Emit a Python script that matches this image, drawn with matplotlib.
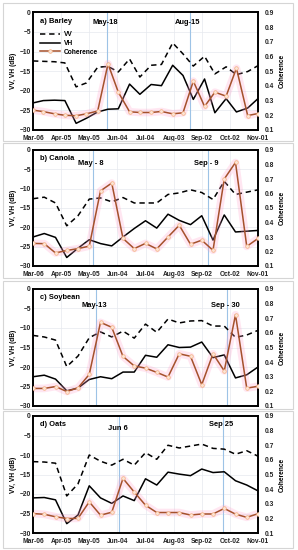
import matplotlib
matplotlib.use("Agg")
import matplotlib.pyplot as plt
from matplotlib.patches import FancyBboxPatch

plt.rcParams['font.family'] = ['Liberation Sans', 'DejaVu Sans']
plt.rcParams['font.weight'] = 'bold'

# ---------------- data ----------------
tick_days = [0, 30, 60, 90, 120, 150, 180, 210, 240]
tick_labels = ['Mar-06', 'Apr-05', 'May-05', 'Jun-04', 'Jul-04', 'Aug-03', 'Sep-02', 'Oct-02', 'Nov-01']

barley_days = [0, 11, 23, 34, 46, 57, 69, 80, 91, 103, 114, 126, 137, 149, 160, 171, 183, 194, 206, 217, 229, 240]
barley_vv = [-12.4, -12.5, -12.6, -12.9, -19.0, -18.0, -14.0, -13.8, -15.2, -11.9, -16.5, -13.5, -13.3, -7.8, -10.6, -13.7, -11.2, -15.7, -13.9, -15.9, -15.1, -13.6]
barley_vh = [-23.1, -22.5, -22.4, -22.5, -28.3, -27.0, -25.4, -24.7, -24.6, -18.3, -20.9, -18.4, -18.7, -13.5, -16.1, -22.2, -17.0, -25.6, -22.0, -25.4, -24.4, -22.0]
barley_coh = [0.235, 0.225, 0.21, 0.20, 0.197, 0.21, 0.229, 0.55, 0.357, 0.224, 0.219, 0.219, 0.226, 0.21, 0.217, 0.432, 0.26, 0.357, 0.33, 0.52, 0.198, 0.212]

crop_days = [0, 12, 24, 36, 48, 60, 72, 84, 96, 108, 120, 132, 144, 156, 168, 180, 192, 204, 216, 228, 240]

canola_vv = [-12.6, -12.2, -13.7, -19.6, -17.0, -12.7, -12.4, -13.4, -12.3, -13.7, -13.7, -13.7, -11.5, -11.1, -10.3, -11.0, -12.8, -8.1, -11.5, -10.9, -10.3]
canola_vh = [-22.5, -21.6, -22.6, -27.8, -25.4, -23.2, -24.2, -24.8, -22.5, -20.3, -18.3, -20.2, -16.6, -18.2, -19.3, -17.0, -23.3, -16.8, -21.2, -21.0, -20.8]
canola_coh = [0.256, 0.254, 0.19, 0.207, 0.22, 0.237, 0.618, 0.672, 0.29, 0.22, 0.256, 0.218, 0.30, 0.381, 0.25, 0.278, 0.208, 0.70, 0.814, 0.235, 0.29]

soy_vv = [-11.9, -12.3, -13.1, -19.9, -17.2, -12.5, -11.0, -12.3, -10.8, -12.6, -9.0, -11.1, -7.7, -8.7, -8.2, -8.1, -9.5, -9.5, -12.4, -11.8, -10.6]
soy_vh = [-22.5, -22.1, -23.1, -26.1, -25.4, -23.2, -22.5, -23.0, -21.3, -21.3, -17.0, -17.5, -14.3, -15.0, -14.9, -13.6, -17.6, -16.9, -22.8, -22.0, -20.0]
soy_coh = [0.22, 0.22, 0.233, 0.199, 0.224, 0.316, 0.672, 0.638, 0.439, 0.374, 0.359, 0.33, 0.298, 0.457, 0.44, 0.246, 0.457, 0.34, 0.724, 0.222, 0.235]

oats_vv = [-11.7, -11.8, -12.1, -20.5, -17.4, -10.0, -11.6, -12.6, -11.1, -12.6, -9.4, -11.1, -7.5, -8.2, -7.7, -7.2, -8.3, -8.5, -9.8, -8.9, -10.3]
oats_vh = [-21.0, -20.9, -21.5, -27.6, -25.4, -17.9, -21.0, -22.4, -20.5, -21.7, -16.1, -17.7, -14.4, -14.9, -15.3, -13.6, -14.5, -14.3, -16.6, -17.7, -19.2]
oats_coh = [0.233, 0.228, 0.211, 0.199, 0.2, 0.313, 0.222, 0.242, 0.473, 0.38, 0.29, 0.24, 0.24, 0.24, 0.223, 0.23, 0.23, 0.268, 0.229, 0.207, 0.232]

panel_titles = ['a) Barley', 'b) Canola', 'c) Soybean', 'd) Oats']
event_days = [[79, 167], [64, 187], [67, 207], [92, 203]]
event_labels = [['May-18', 'Aug-15'], ['May - 8', 'Sep - 9'], ['May-13', 'Sep - 30'], ['Jun 6', 'Sep 25']]

panels = [
    (barley_days, barley_vv, barley_vh, barley_coh),
    (crop_days, canola_vv, canola_vh, canola_coh),
    (crop_days, soy_vv, soy_vh, soy_coh),
    (crop_days, oats_vv, oats_vh, oats_coh),
]

# ---------------- layout (pixels) ----------------
W, H = 298, 550
fig = plt.figure(figsize=(W / 100, H / 100), dpi=100)
fig.patch.set_facecolor('white')

axes_px = [(33, 12.3, 258, 130), (33, 150, 258, 266), (33, 289, 258, 406), (33, 416, 258, 533)]
boxes_px = [(3, 3, 293, 141), (3, 143, 293, 278), (3, 281, 293, 409), (3, 411, 293, 548)]
label_y = [[0.91, 0.91], [0.88, 0.88], [0.86, 0.86], [0.89, 0.93]]
title_y = [0.92, 0.93, 0.93, 0.93]

for (x0, y0, x1, y1) in boxes_px:
    fig.patches.append(FancyBboxPatch((x0 / W, 1 - y1 / H), (x1 - x0) / W, (y1 - y0) / H,
                                      boxstyle='square,pad=0', transform=fig.transFigure,
                                      facecolor='none', edgecolor='#D5D5D5', linewidth=0.8))

fs = 4.8
coh_color = '#A5512C'

for i, (days, vv, vh, coh) in enumerate(panels):
    x0, y0, x1, y1 = axes_px[i]
    ax = fig.add_axes([x0 / W, 1 - y1 / H, (x1 - x0) / W, (y1 - y0) / H])
    ax2 = ax.twinx()

    ax.set_xlim(0, 240)
    ax.set_ylim(-30, 0)
    ax2.set_ylim(0.1, 0.9)
    ax.set_yticks([-30, -25, -20, -15, -10, -5, 0])
    ax2.set_yticks([0.1, 0.2, 0.3, 0.4, 0.5, 0.6, 0.7, 0.8, 0.9])
    ax2.set_yticklabels(['0.1', '0.2', '0.3', '0.4', '0.5', '0.6', '0.7', '0.8', '0.9'])
    ax.set_xticks(tick_days)
    if i == 2:
        ax.set_xticklabels([])
    else:
        ax.set_xticklabels(tick_labels)

    ax.grid(True, color='#E6E9EE', linewidth=0.5, zorder=0)
    ax.set_axisbelow(True)

    for a in (ax, ax2):
        for s in a.spines.values():
            s.set_linewidth(1.2)
            s.set_color('black')
    ax.tick_params(axis='x', length=0, labelsize=fs, pad=3.5)
    ax.tick_params(axis='y', length=0, labelsize=fs, pad=1.5)
    ax2.tick_params(axis='y', length=0, labelsize=fs, pad=5)
    for lab in ax.get_xticklabels() + ax.get_yticklabels() + ax2.get_yticklabels():
        lab.set_fontweight('bold')
        lab.set_color('#222222')

    ax.set_ylabel('VV, VH (dB)', fontsize=fs, fontweight='bold', labelpad=2)
    ax2.set_ylabel('Coherence', fontsize=fs, fontweight='bold', labelpad=3)

    for d in event_days[i]:
        ax.axvline(d, color='#9DC3E6', linewidth=0.8, zorder=1)

    l_vv, = ax.plot(days, vv, color='black', linestyle=(0, (3.5, 2.5)), linewidth=1.1, label='VV', zorder=3)
    l_vh, = ax.plot(days, vh, color='black', linestyle='-', linewidth=1.1, label='VH', zorder=3)

    ax2.plot(days, coh, color='#FF9EC8', alpha=0.25, linewidth=5.5, solid_capstyle='round', zorder=1)
    l_coh, = ax2.plot(days, coh, color=coh_color, linewidth=1.1, marker='o', markersize=2.6,
                      markerfacecolor='#FBE5D6', markeredgecolor='#F4B183', markeredgewidth=0.5,
                      label='Coherence', zorder=3)

    ax.text(0.03, title_y[i], panel_titles[i], transform=ax.transAxes, fontsize=5.4,
            fontweight='bold', ha='left', va='center')
    for d, t, yy in zip(event_days[i], event_labels[i], label_y[i]):
        ax.text(d - 2, yy, t, transform=ax.get_xaxis_transform(), fontsize=5.4,
                fontweight='bold', ha='center', va='center')

    if i == 0:
        leg = ax.legend([l_vv, l_vh, l_coh], ['VV', 'VH', 'Coherence'], loc='upper left',
                        bbox_to_anchor=(0.02, 0.86), frameon=False, fontsize=fs,
                        handlelength=2.9, labelspacing=0.25, handletextpad=0.6, borderaxespad=0)
        for t in leg.get_texts():
            t.set_fontweight('bold')

fig.savefig('out.png', dpi=100)
